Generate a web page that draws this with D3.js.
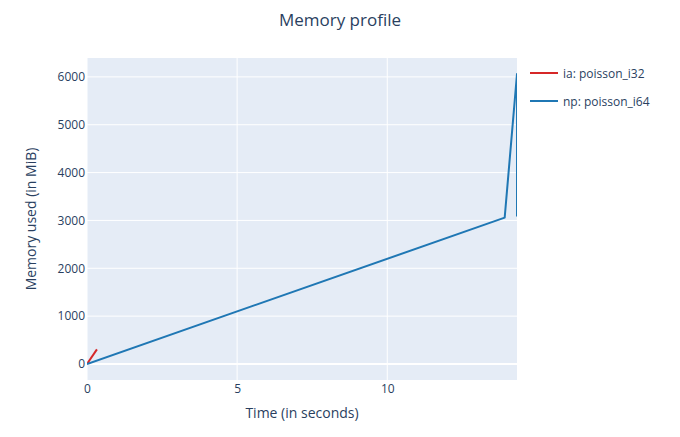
<!DOCTYPE html>
<html><head><meta charset="utf-8">
<script src="https://cdn.jsdelivr.net/npm/d3@7"></script>
<style>body{margin:0;background:#fff}svg{display:block}text{font-family:"Open Sans",sans-serif}</style>
</head><body>
<svg id="c" width="680" height="437"></svg>
<script>
const seriesNames = ["ia: poisson_i32", "np: poisson_i64"];
const seriesColors = ["#d62728", "#1f77b4"];
const iaTime = [0, 0.33];
const iaMem = [0, 305];
const npTime = [0, 13.91, 14.32, 14.32];
const npMem = [0, 3058, 6060, 3080];
const xTicks = [0, 5, 10];
const yTicks = [0, 1000, 2000, 3000, 4000, 5000, 6000];

const svg = d3.select("#c");
const m = {l: 87, r: 517, t: 58, b: 380};
const x = d3.scaleLinear().domain([0, 14.32]).range([m.l, m.r]);
const y = d3.scaleLinear().domain([-335, 6395]).range([m.b, m.t]);
const col = "#2a3f5f";

svg.append("rect").attr("x", m.l).attr("y", m.t).attr("width", m.r - m.l).attr("height", m.b - m.t).attr("fill", "#E5ECF6");

const g = svg.append("g");
g.selectAll(".gx").data(xTicks).join("line")
  .attr("x1", d => x(d)).attr("x2", d => x(d)).attr("y1", m.t).attr("y2", m.b)
  .attr("stroke", "#fff").attr("stroke-width", 1);
g.selectAll(".gy").data(yTicks).join("line")
  .attr("x1", m.l).attr("x2", m.r).attr("y1", d => y(d)).attr("y2", d => y(d))
  .attr("stroke", "#fff").attr("stroke-width", d => d === 0 ? 2 : 1);

// axes
const xa = svg.append("g").attr("transform", `translate(0,${m.b})`)
  .call(d3.axisBottom(x).tickValues(xTicks).tickSize(0).tickPadding(4).tickFormat(d3.format("d")));
const ya = svg.append("g").attr("transform", `translate(${m.l},0)`)
  .call(d3.axisLeft(y).tickValues(yTicks).tickSize(0).tickPadding(2).tickFormat(d3.format("d")));
[xa, ya].forEach(a => {
  a.select(".domain").remove();
  a.selectAll("text").attr("fill", col).attr("font-size", 12).style("font-family", '"Open Sans",sans-serif');
});

const line = d3.line().x(d => x(d[0])).y(d => y(d[1]));
const clip = svg.append("clipPath").attr("id", "clp").append("rect")
  .attr("x", m.l).attr("y", m.t).attr("width", m.r - m.l).attr("height", m.b - m.t);
const series = [d3.zip(iaTime, iaMem), d3.zip(npTime, npMem)];
svg.append("g").attr("clip-path", "url(#clp)").selectAll("path").data(series).join("path")
  .attr("d", line).attr("fill", "none")
  .attr("stroke", (d, i) => seriesColors[i]).attr("stroke-width", 2).attr("stroke-linejoin", "round");

// titles
svg.append("text").attr("x", 340).attr("y", 26).attr("text-anchor", "middle")
  .attr("font-size", 17).attr("fill", col).text("Memory profile");
svg.append("text").attr("x", 302).attr("y", 418).attr("text-anchor", "middle")
  .attr("font-size", 14).attr("fill", col).text("Time (in seconds)");
svg.append("text").attr("transform", `translate(36,219) rotate(-90)`).attr("text-anchor", "middle")
  .attr("font-size", 14).attr("fill", col).text("Memory used (in MiB)");

// legend
const lg = svg.append("g").selectAll("g").data(seriesNames).join("g")
  .attr("transform", (d, i) => `translate(530,${73 + i * 28})`);
lg.append("line").attr("x1", 0).attr("x2", 28).attr("y1", 0).attr("y2", 0)
  .attr("stroke", (d, i) => seriesColors[i]).attr("stroke-width", 2);
lg.append("text").attr("x", 33).attr("y", 4.5).attr("font-size", 12).attr("fill", col).text(d => d);
</script>
</body></html>
